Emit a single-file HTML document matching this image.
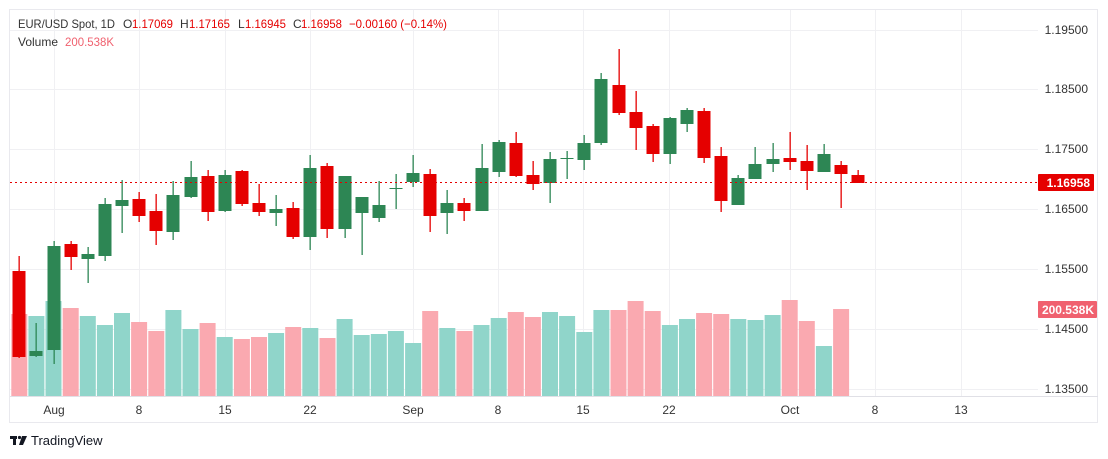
<!DOCTYPE html>
<html><head><meta charset="utf-8"><style>
body{margin:0;background:#fff;width:1108px;height:459px;overflow:hidden}
svg{display:block}
text{font-family:"Liberation Sans","DejaVu Sans",sans-serif}
</style></head><body>
<svg id="s" width="1108" height="459" xmlns="http://www.w3.org/2000/svg">
<rect x="9.5" y="9.5" width="1088" height="413" fill="#fff" stroke="#e9e9ee"/>
<g id="grid" stroke="#f0f0f3" stroke-width="1"></g>
<g id="vol"></g>
<g id="cdl"></g>
<line x1="10" y1="182.5" x2="1038" y2="182.5" stroke="#e50000" stroke-dasharray="2,3"/>
<line x1="10" y1="396.5" x2="1098" y2="396.5" stroke="#e0e0e6"/>
<g font-size="12" fill="#333" text-anchor="end" id="pl"></g>
<rect x="1038" y="174" width="56" height="17" fill="#e50000" rx="1"/>
<text x="1090" y="187" font-size="12" fill="#fff" text-anchor="end" font-weight="bold">1.16958</text>
<rect x="1038" y="301" width="59" height="17" fill="#f0616f" rx="1"/>
<text x="1094" y="314" font-size="12" fill="#fff" text-anchor="end" font-weight="bold">200.538K</text>
<g font-size="12" fill="#333" text-anchor="middle">
<text x="54" y="414">Aug</text><text x="139" y="414">8</text><text x="225" y="414">15</text><text x="310" y="414">22</text><text x="413" y="414">Sep</text><text x="498" y="414">8</text><text x="583" y="414">15</text><text x="669" y="414">22</text><text x="790" y="414">Oct</text><text x="875" y="414">8</text><text x="961" y="414">13</text>
</g>
<g font-size="12" fill="#333">
<text x="18" y="28" textLength="97" lengthAdjust="spacingAndGlyphs">EUR/USD Spot, 1D</text>
<text x="123" y="28">O</text><text x="132" y="28" fill="#e50000" textLength="41" lengthAdjust="spacingAndGlyphs">1.17069</text>
<text x="180" y="28">H</text><text x="189" y="28" fill="#e50000" textLength="41" lengthAdjust="spacingAndGlyphs">1.17165</text>
<text x="238" y="28">L</text><text x="245" y="28" fill="#e50000" textLength="41" lengthAdjust="spacingAndGlyphs">1.16945</text>
<text x="293" y="28">C</text><text x="301" y="28" fill="#e50000" textLength="41" lengthAdjust="spacingAndGlyphs">1.16958</text>
<text x="349" y="28" fill="#e50000" textLength="98" lengthAdjust="spacingAndGlyphs">−0.00160 (−0.14%)</text>
<text x="18" y="46" textLength="40" lengthAdjust="spacingAndGlyphs">Volume</text>
<text x="65" y="46" fill="#f0616f" textLength="49" lengthAdjust="spacingAndGlyphs">200.538K</text>
</g>
<g fill="#131722"><rect x="10" y="436" width="7" height="3"/><rect x="13" y="436" width="3" height="9"/><circle cx="19.5" cy="437.5" r="1.6"/><path d="M22 436h5l-4 9h-4z"/></g>
<text x="31" y="445" font-size="13" fill="#131722">TradingView</text>
</svg>
<script>
var ns="http://www.w3.org/2000/svg";
function el(p,t,a){var e=document.createElementNS(ns,t);for(var k in a)e.setAttribute(k,a[k]);p.appendChild(e);return e;}
var g=document.getElementById('grid');
[54,139,225,310,413,498,583,669,790,875,961].forEach(function(x){el(g,'line',{x1:x+.5,y1:10,x2:x+.5,y2:396});});
var pl=document.getElementById('pl');
[["1.19500",30],["1.18500",89],["1.17500",149],["1.16500",209],["1.15500",269],["1.14500",329],["1.13500",389]].forEach(function(a){el(g,'line',{x1:10,y1:a[1]+.5,x2:1038,y2:a[1]+.5});var t=el(pl,'text',{x:1088,y:a[1]+4});t.textContent=a[0];});
var C=[
['r',271,357,256,358],['g',351,356,323,357],['g',246,350,241,364],['r',244,257,241,270],['g',254,259,247,283],
['g',204,256,198,261],['g',200,206,180,233],['r',199,216,192,222],['r',211,231,194,245],['g',195,232,181,240],
['g',177,197,161,198],['r',176,212,170,221],['g',175,211,170,212],['r',171,204,170,206],['r',203,212,184,216],
['g',209,213,195,226],['r',208,237,202,239],['g',168,237,155,250],['r',166,229,163,238],['g',176,229,176,238],
['g',197,213,197,255],['g',205,218,181,222],['g',188,189,174,209],['g',173,182,155,187],['r',174,216,169,232],
['g',203,213,190,234],['r',203,211,198,221],['g',168,211,144,211],['g',142,172,140,177],['r',143,176,132,177],
['r',175,184,161,190],['g',159,183,152,203],['g',158,159,151,179],['g',143,160,135,170],['g',79,143,73,145],
['r',85,113,49,115],['r',112,128,91,150],['r',126,154,124,162],['g',118,154,117,164],['g',110,124,108,132],
['r',111,158,108,163],['r',156,201,147,212],['g',178,205,175,205],['g',164,179,147,179],['g',159,164,143,172],
['r',158,162,132,170],['r',161,171,145,190],['g',154,172,144,172],['r',165,174,161,208],['r',175,183,170,183]];
var V=[[314,'r'],[316,'g'],[301,'g'],[308,'r'],[316,'g'],[325,'g'],[313,'g'],[322,'r'],[331,'r'],[310,'g'],[329,'g'],[323,'r'],[337,'g'],[339,'r'],[337,'r'],[333,'g'],[327,'r'],[328,'g'],[338,'r'],[319,'g'],[335,'g'],[334,'g'],[331,'g'],[343,'g'],[311,'r'],[328,'g'],[331,'r'],[325,'g'],[318,'g'],[312,'r'],[317,'r'],[312,'g'],[316,'g'],[332,'g'],[310,'g'],[310,'r'],[301,'r'],[311,'r'],[325,'g'],[319,'g'],[313,'r'],[314,'r'],[319,'g'],[320,'g'],[315,'g'],[300,'r'],[321,'r'],[346,'g'],[309,'r']];
var sp=17.12,x0=19.3;
var vg=document.getElementById('vol'),cg=document.getElementById('cdl');
V.forEach(function(v,i){var cx=x0+i*sp;el(vg,'rect',{x:(cx-8).toFixed(1),y:v[0],width:16,height:396-v[0],fill:v[1]=='r'?'#faa9b0':'#90d5ca'});});
C.forEach(function(c,i){var cx=Math.round(x0+i*sp);var col=c[0]=='r'?'#e50000':'#2d8654';
el(cg,'rect',{x:cx-0.5,y:c[3],width:1.3,height:c[4]-c[3],fill:col});
el(cg,'rect',{x:cx-6.5,y:c[1],width:13,height:Math.max(1,c[2]-c[1]),fill:col});});
</script>
</body></html>
